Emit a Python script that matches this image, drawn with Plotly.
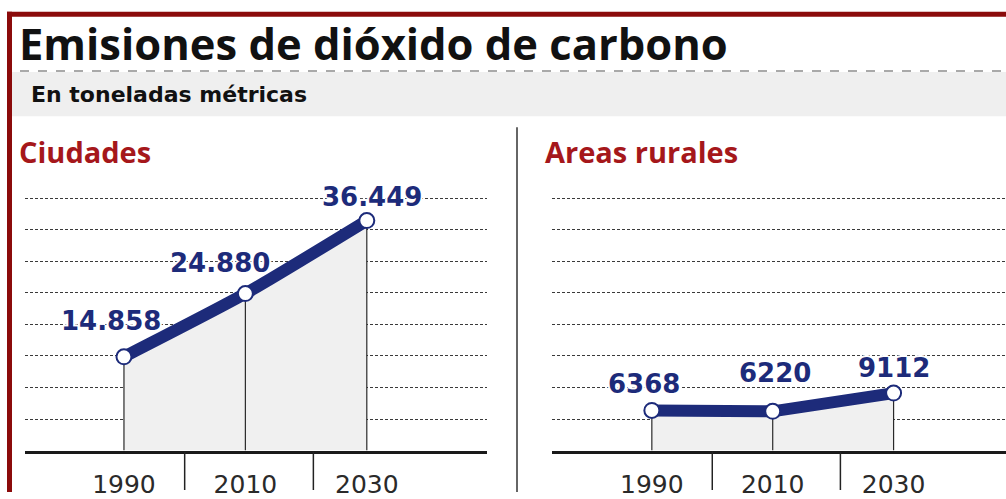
import plotly.graph_objects as go

# ---- data ----
years = ["1990", "2010", "2030"]
ciudades = [14858, 24880, 36449]
rurales = [6368, 6220, 9112]
panel_titles = ["Ciudades", "Areas rurales"]
title_text = "Emisiones de dióxido de carbono"
subtitle_text = "En toneladas métricas"

# ---- geometry helpers (pixels -> paper) ----
W, H = 1006, 499
def px(x):
    return x / W
def py(y):
    return 1 - y / H

NAVY = "#1d2b7a"
RED = "#a5171b"
BORDER = "#8b0b0b"
FONT = "Open Sans"
WIDE = "DejaVu Sans"
GLOW = "2px 0 0 white, -2px 0 0 white, 0 2px 0 white, 0 -2px 0 white, 0 0 4px white"

base_px, top_px = 457, 190
ymax = (base_px - top_px) / 32 * 5000

fmt_city = lambda v: f"{v:,}".replace(",", ".")
fmt_rural = lambda v: str(v)

separator_pos = [0.5, 1.56]

panels = [
    dict(values=ciudades, fmt=fmt_city, xa="x", ya="y", dom=(25, 487),
         xr=(-0.815, 2.99), shifts=[(-13, 36), (-25, 31), (5, 24)],
         title=panel_titles[0], tx=17, shape="spline"),
    dict(values=rurales, fmt=fmt_rural, xa="x2", ya="y2", dom=(552, 1006),
         xr=(-0.826, 2.93), shifts=[(-8, 26), (2, 38), (0, 25)],
         title=panel_titles[1], tx=543, shape="linear"),
]

fig = go.Figure()
annotations = []
shapes = []

for i, p in enumerate(panels):
    vals = p["values"]
    # fill + drop lines
    fig.add_trace(go.Scatter(
        x=years, y=vals, xaxis=p["xa"], yaxis=p["ya"], mode="lines",
        line=dict(width=0, color="rgba(0,0,0,0)", shape=p["shape"], smoothing=0.6),
        fill="tozeroy", fillcolor="#f0f0f0",
        error_y=dict(type="data", symmetric=False, array=[0] * len(vals),
                     arrayminus=vals, width=0, thickness=1.2, color="#2a2a2a"),
        hoverinfo="skip", showlegend=False))
    # main line
    fig.add_trace(go.Scatter(
        x=years, y=vals, xaxis=p["xa"], yaxis=p["ya"], mode="lines+markers",
        line=dict(color=NAVY, width=12, shape=p["shape"], smoothing=0.6),
        marker=dict(size=15, color="white", line=dict(color=NAVY, width=2)),
        hoverinfo="skip", showlegend=False))
    # value labels (category axis -> use category index)
    for j, v in enumerate(vals):
        dx, dy = p["shifts"][j]
        annotations.append(dict(
            x=j, y=v, xref=p["xa"], yref=p["ya"], text=f"<b>{p['fmt'](v)}</b>",
            showarrow=False, xshift=dx, yshift=dy,
            font=dict(family=WIDE, size=26, color=NAVY, shadow=GLOW)))
    # separators under axis
    for sx in separator_pos:
        shapes.append(dict(type="line", xref=p["xa"], yref="paper", x0=sx, x1=sx,
                           y0=py(458), y1=py(497), line=dict(color="#222", width=1.5)))
    # panel title
    annotations.append(dict(
        x=px(p["tx"]), y=py(154), xref="paper", yref="paper", xanchor="left",
        yanchor="middle", showarrow=False, text=f"<b>{p['title']}</b>",
        font=dict(family=FONT, size=29, color=RED)))

# main title / subtitle
annotations.append(dict(
    x=px(17), y=py(44), xref="paper", yref="paper", xanchor="left", yanchor="middle",
    showarrow=False, text=f"<b>{title_text}</b>",
    font=dict(family=FONT, size=43.5, color="#111")))
annotations.append(dict(
    x=px(29), y=py(96), xref="paper", yref="paper", xanchor="left", yanchor="middle",
    showarrow=False, text=f"<b>{subtitle_text}</b>",
    font=dict(family=WIDE, size=22, color="#111")))

# decorations
shapes += [
    dict(type="rect", xref="paper", yref="paper", x0=px(12), x1=1, y0=py(118), y1=py(73),
         fillcolor="#efefef", line=dict(width=0), layer="below"),
    dict(type="line", xref="paper", yref="paper", x0=px(20), x1=1, y0=py(72), y1=py(72),
         line=dict(color="#555", width=1.2, dash="dash")),
    dict(type="rect", xref="paper", yref="paper", x0=px(7), x1=1, y0=py(17), y1=py(12),
         fillcolor=BORDER, line=dict(width=0)),
    dict(type="rect", xref="paper", yref="paper", x0=px(7), x1=px(12), y0=0, y1=py(12),
         fillcolor=BORDER, line=dict(width=0)),
    dict(type="line", xref="paper", yref="paper", x0=px(517), x1=px(517), y0=0, y1=py(129),
         line=dict(color="#333", width=1.5)),
]

def xaxis(p):
    return dict(domain=[px(p["dom"][0]), px(p["dom"][1])], type="category",
                range=list(p["xr"]), showgrid=False, zeroline=False, showline=True,
                linecolor="#1a1a1a", linewidth=2.5, ticks="", ticklabelstandoff=10,
                tickfont=dict(family=WIDE, size=25, color="#2a2a2a"), fixedrange=True)

def yaxis(p):
    return dict(domain=[py(base_px), py(top_px)], range=[0, ymax], tick0=0, dtick=5000,
                showgrid=True, gridcolor="#3a3a3a", griddash="3px,2px", gridwidth=1.3,
                showticklabels=False, zeroline=False, showline=False, fixedrange=True)

fig.update_layout(
    width=W, height=H, margin=dict(l=0, r=0, t=0, b=0),
    paper_bgcolor="white", plot_bgcolor="white", showlegend=False,
    xaxis=dict(xaxis(panels[0]), anchor="y"), yaxis=dict(yaxis(panels[0]), anchor="x"),
    xaxis2=dict(xaxis(panels[1]), anchor="y2"),
    yaxis2=dict(yaxis(panels[1]), anchor="x2"),
    annotations=annotations, shapes=shapes,
)

post = ("document.body.style.margin='0';"
        "document.documentElement.style.overflow='hidden';"
        "document.body.style.overflow='hidden';"
        "var gd=document.getElementById('{plot_id}');"
        "gd.style.overflow='hidden';gd.style.height='499px';")
fig.write_html("out.html", config={"displayModeBar": False}, post_script=post)
